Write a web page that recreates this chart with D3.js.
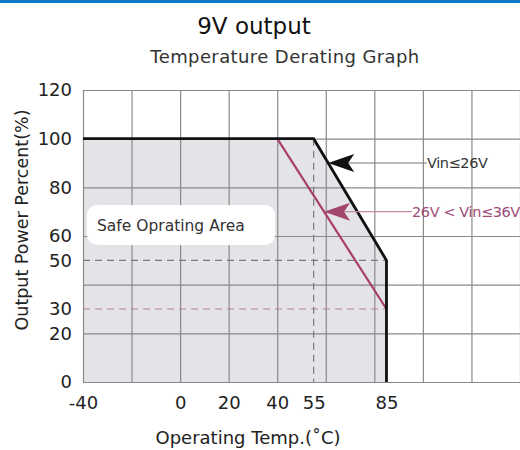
<!DOCTYPE html>
<html>
<head>
<meta charset="utf-8">
<script src="https://cdnjs.cloudflare.com/ajax/libs/d3/7.8.5/d3.min.js"></script>
<style>
	body { margin: 0; background: #fff; }
	svg { display: block; font-family: "DejaVu Sans", sans-serif; }
</style>
</head>
<body>
<div id="chart"></div>
<script>

// tick labels shown on the axes
var xTicks = [-40, 0, 20, 40, 55, 85];
var yTicks = [0, 20, 30, 50, 60, 80, 100, 120];

// grid lines
var gridX = [-40, -20, 0, 20, 40, 60, 80, 100, 120, 140];
var gridY = [0, 20, 40, 60, 80, 100, 120];

// derating curve, Vin <= 26V (also the edge of the safe area)
var lowTemp  = [-40, 55, 85, 85];
var lowPower = [100, 100, 50, 0];

// derating curve, 26V < Vin <= 36V
var highTemp  = [40, 85];
var highPower = [100, 30];

// curve labels and the power level where each arrow points
var curveLabels = ["Vin≤26V", "26V < Vin≤36V"];
var arrowPower  = [90, 70];


var margin = { top: 90, right: 0, bottom: 68, left: 83 };
var width = 520 - margin.left - margin.right,
	height = 450 - margin.top - margin.bottom;

var svg = d3.select("#chart").append("svg")
	.attr("width", 520)
	.attr("height", 450);

// blue bar along the top
svg.append("rect")
	.attr("x", 0).attr("y", 0)
	.attr("width", 520).attr("height", 3)
	.attr("fill", "#0a78c6");

svg.append("text")
	.attr("x", 254).attr("y", 34)
	.attr("text-anchor", "middle")
	.attr("font-size", 23)
	.attr("fill", "#111")
	.text("9V output");

svg.append("text")
	.attr("x", 285).attr("y", 63)
	.attr("text-anchor", "middle")
	.attr("font-size", 18)
	.attr("letter-spacing", 0.4)
	.attr("fill", "#333")
	.text("Temperature Derating Graph");

var g = svg.append("g")
	.attr("transform", "translate(" + margin.left + "," + margin.top + ")");

var x = d3.scaleLinear().domain([-40, 140]).range([0, width]);
var y = d3.scaleLinear().domain([0, 120]).range([height, 0]);

// shaded safe operating area
var area = d3.area()
	.x(function(d) { return x(d[0]); })
	.y0(y(0))
	.y1(function(d) { return y(d[1]); });

g.append("path")
	.datum(d3.zip(lowTemp, lowPower))
	.attr("d", area)
	.attr("fill", "#e4e3e8");

// grid
g.append("g")
	.attr("class", "grid")
	.call(d3.axisBottom(x).tickValues(gridX).tickSize(height).tickFormat(""));
g.append("g")
	.attr("class", "grid")
	.call(d3.axisLeft(y).tickValues(gridY).tickSize(-width).tickFormat(""));
g.selectAll(".grid .domain").remove();
g.selectAll(".grid line")
	.attr("stroke", "#8a8a8a")
	.attr("stroke-width", 1.2);

// dashed guide lines
g.append("line")
	.attr("x1", x(-40)).attr("x2", x(85))
	.attr("y1", y(50)).attr("y2", y(50))
	.attr("stroke", "#7a7a7a").attr("stroke-width", 1.2)
	.attr("stroke-dasharray", "7,5");
g.append("line")
	.attr("x1", x(-40)).attr("x2", x(85))
	.attr("y1", y(30)).attr("y2", y(30))
	.attr("stroke", "#b58096").attr("stroke-width", 1.2)
	.attr("stroke-dasharray", "7,5");
g.append("line")
	.attr("x1", x(55)).attr("x2", x(55))
	.attr("y1", y(100)).attr("y2", y(0))
	.attr("stroke", "#7a7a7a").attr("stroke-width", 1.2)
	.attr("stroke-dasharray", "7,5");

// safe operating area label
g.append("rect")
	.attr("x", 4).attr("y", 115)
	.attr("width", 188).attr("height", 40)
	.attr("rx", 10)
	.attr("fill", "#fff");
g.append("text")
	.attr("x", 14).attr("y", 141)
	.attr("font-size", 15.5)
	.attr("fill", "#333")
	.text("Safe Oprating Area");

// curves
var line = d3.line()
	.x(function(d) { return x(d[0]); })
	.y(function(d) { return y(d[1]); });

g.append("path")
	.datum(d3.zip(highTemp, highPower))
	.attr("d", line)
	.attr("fill", "none")
	.attr("stroke", "#a83e6c")
	.attr("stroke-width", 2.2);

g.append("path")
	.datum(d3.zip(lowTemp, lowPower))
	.attr("d", line)
	.attr("fill", "none")
	.attr("stroke", "#111")
	.attr("stroke-width", 2.8);

// arrows pointing at each curve
var slopeLow = d3.scaleLinear().domain([lowPower[1], lowPower[2]]).range([lowTemp[1], lowTemp[2]]);
var slopeHigh = d3.scaleLinear().domain(highPower).range(highTemp);
var tips = [slopeLow(arrowPower[0]), slopeHigh(arrowPower[1])];
var arrowColor = ["#111", "#a3466f"];
var leaderColor = ["#777", "#c48aa2"];
var labelX = [344, 329];

for (var i = 0; i < 2; i++) {
	var tx = x(tips[i]), ty = y(arrowPower[i]);
	g.append("line")
		.attr("x1", tx + 20).attr("x2", labelX[i])
		.attr("y1", ty).attr("y2", ty)
		.attr("stroke", leaderColor[i])
		.attr("stroke-width", 1.2);
	g.append("path")
		.attr("d", "M0,0 L26,-9 L20,0 L26,9 Z")
		.attr("transform", "translate(" + tx + "," + ty + ")")
		.attr("fill", arrowColor[i]);
	g.append("text")
		.attr("x", labelX[i]).attr("y", ty + 5)
		.attr("font-size", 14.5)
		.attr("letter-spacing", -0.4)
		.attr("fill", i == 0 ? "#333" : "#9c4a78")
		.text(curveLabels[i]);
}

// axes (labels only), plain hyphen for negatives like the original
var plain = function(d) { return String(d); };
var yAxis = g.append("g")
	.call(d3.axisLeft(y).tickValues(yTicks).tickSize(0).tickPadding(11).tickFormat(plain));
var xAxis = g.append("g")
	.attr("transform", "translate(0," + height + ")")
	.call(d3.axisBottom(x).tickValues(xTicks).tickSize(0).tickPadding(14).tickFormat(plain));
g.selectAll(".domain").remove();
yAxis.selectAll("text")
	.attr("font-family", "DejaVu Sans")
	.attr("font-size", 18)
	.attr("fill", "#222");
xAxis.selectAll("text")
	.attr("font-family", "DejaVu Sans")
	.attr("font-size", 18)
	.attr("fill", "#222");

// axis titles
svg.append("text")
	.attr("transform", "translate(28,220) rotate(-90)")
	.attr("text-anchor", "middle")
	.attr("font-size", 17.5)
	.attr("fill", "#222")
	.text("Output Power Percent(%)");

svg.append("text")
	.attr("x", 248).attr("y", 444)
	.attr("text-anchor", "middle")
	.attr("font-size", 18)
	.attr("fill", "#222")
	.text("Operating Temp.(˚C)");

</script>
</body>
</html>
